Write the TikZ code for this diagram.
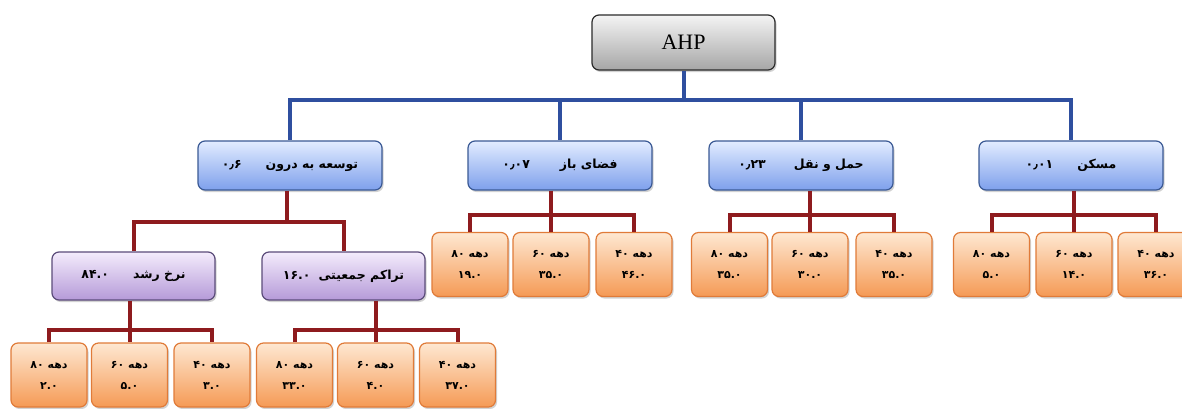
\documentclass[tikz,border=0pt]{standalone}
\usepackage{fontspec}
\setmainfont{Liberation Serif}
\newfontfamily\pf[Script=Arabic]{DejaVu Sans}
\TeXXeTstate=1
\usetikzlibrary{shadows}
\definecolor{blueline}{HTML}{2F4F9F}
\definecolor{redline}{HTML}{8E1B1E}
\definecolor{bluebd}{HTML}{3B5A95}
\definecolor{bluetop}{HTML}{E2ECFF}
\definecolor{bluebot}{HTML}{7EA0EC}
\definecolor{purbd}{HTML}{5B4C7A}
\definecolor{purtop}{HTML}{F4ECFC}
\definecolor{purbot}{HTML}{B59AD8}
\definecolor{orbd}{HTML}{E07B39}
\definecolor{ortop}{HTML}{FEE8D2}
\definecolor{orbot}{HTML}{F59A55}
\definecolor{ahpbd}{HTML}{2B2B2B}
\definecolor{ahptop}{HTML}{F4F4F4}
\definecolor{ahpbot}{HTML}{A6A6A6}
\tikzset{
 box/.style={draw, rounded corners=7pt, line width=1.2pt, inner sep=0pt, align=center, text=black,
   drop shadow={shadow xshift=1.5pt, shadow yshift=-2pt, opacity=0.35}},
 ahpbox/.style={box, draw=ahpbd, top color=ahptop, bottom color=ahpbot, minimum width=183pt, minimum height=55pt,
   font=\fontsize{22}{24}\selectfont},
 bluebox/.style={box, draw=bluebd, top color=bluetop, bottom color=bluebot, minimum width=184pt, minimum height=49pt,
   font=\pf\bfseries\fontsize{12.5}{14}\selectfont},
 purplebox/.style={box, draw=purbd, top color=purtop, bottom color=purbot, minimum width=163pt, minimum height=48pt,
   font=\pf\bfseries\fontsize{12.5}{14}\selectfont},
 orangebox/.style={box, draw=orbd, top color=ortop, bottom color=orbot, minimum width=76pt, minimum height=64pt,
   font=\pf\bfseries\fontsize{11}{21}\selectfont},
 bl/.style={draw=blueline, line width=4pt},
 rl/.style={draw=redline, line width=4pt},
}
\newcommand{\RL}[1]{\beginR #1\endR}
\newcommand{\dec}[2]{#1 \RL{دهه}\\ #2}
\begin{document}
\begin{tikzpicture}[x=1pt,y=-1pt]
\clip (0,0) rectangle (1182,408);
\fill[white] (0,0) rectangle (1182,408);
% top
\node[ahpbox] (ahp) at (683.5,42.5) {AHP};
% level 1
\node[bluebox] (tv) at (290,165.5) {۰٫۶\hspace{24pt}\RL{توسعه به درون}};
\node[bluebox] (fz) at (560,165.5) {۰٫۰۷\hspace{30pt}\RL{فضای باز}};
\node[bluebox] (hn) at (801,165.5) {۰٫۲۳\hspace{28pt}\RL{حمل و نقل}};
\node[bluebox] (mk) at (1071,165.5) {۰٫۰۱\hspace{24pt}\RL{مسکن}};
% purple
\node[purplebox] (nr) at (133.5,276) {۸۴.۰\hspace{24pt}\RL{نرخ رشد}};
\node[purplebox] (tj) at (343.5,276) {۱۶.۰\hspace{8pt}\RL{تراکم جمعیتی}};
% orange under fz
\node[orangebox] (fz1) at (470,264.5) {\dec{۸۰}{۱۹.۰}};
\node[orangebox] (fz2) at (551,264.5) {\dec{۶۰}{۳۵.۰}};
\node[orangebox] (fz3) at (634,264.5) {\dec{۴۰}{۴۶.۰}};
% orange under hn
\node[orangebox] (hn1) at (729.5,264.5) {\dec{۸۰}{۳۵.۰}};
\node[orangebox] (hn2) at (810,264.5) {\dec{۶۰}{۳۰.۰}};
\node[orangebox] (hn3) at (894,264.5) {\dec{۴۰}{۳۵.۰}};
% orange under mk
\node[orangebox] (mk1) at (991.5,264.5) {\dec{۸۰}{۵.۰}};
\node[orangebox] (mk2) at (1074,264.5) {\dec{۶۰}{۱۴.۰}};
\node[orangebox] (mk3) at (1156,264.5) {\dec{۴۰}{۳۶.۰}};
% orange under nr
\node[orangebox] (nr1) at (49,375) {\dec{۸۰}{۲.۰}};
\node[orangebox] (nr2) at (129.5,375) {\dec{۶۰}{۵.۰}};
\node[orangebox] (nr3) at (212,375) {\dec{۴۰}{۳.۰}};
% orange under tj
\node[orangebox] (tj1) at (294.5,375) {\dec{۸۰}{۳۳.۰}};
\node[orangebox] (tj2) at (375.5,375) {\dec{۶۰}{۴.۰}};
\node[orangebox] (tj3) at (457.5,375) {\dec{۴۰}{۳۷.۰}};
% blue connectors
\coordinate (bb) at (683.5,100);
\draw[bl] (ahp.south) -- (bb);
\draw[bl] (tv.north) |- (bb) -| (mk.north);
\draw[bl] (fz.north) -- (fz.north |- bb);
\draw[bl] (hn.north) -- (hn.north |- bb);
% red connectors
\coordinate (rtv) at (287,222);
\draw[rl] (tv.south -| rtv) -- (rtv);
\draw[rl] (nr.north) |- (rtv) -| (tj.north);
\coordinate (rfz) at (551,215);
\draw[rl] (fz.south -| rfz) -- (fz2.north);
\draw[rl] (fz1.north) |- (rfz) -| (fz3.north);
\coordinate (rhn) at (810,215);
\draw[rl] (hn.south -| rhn) -- (hn2.north);
\draw[rl] (hn1.north) |- (rhn) -| (hn3.north);
\coordinate (rmk) at (1074,215);
\draw[rl] (mk.south -| rmk) -- (mk2.north);
\draw[rl] (mk1.north) |- (rmk) -| (mk3.north);
\coordinate (rnr) at (129.5,330);
\draw[rl] (nr.south -| rnr) -- (nr2.north);
\draw[rl] (nr1.north) |- (rnr) -| (nr3.north);
\coordinate (rtj) at (375.5,330);
\draw[rl] (tj.south -| rtj) -- (tj2.north);
\draw[rl] (tj1.north) |- (rtj) -| (tj3.north);
\end{tikzpicture}
\end{document}
